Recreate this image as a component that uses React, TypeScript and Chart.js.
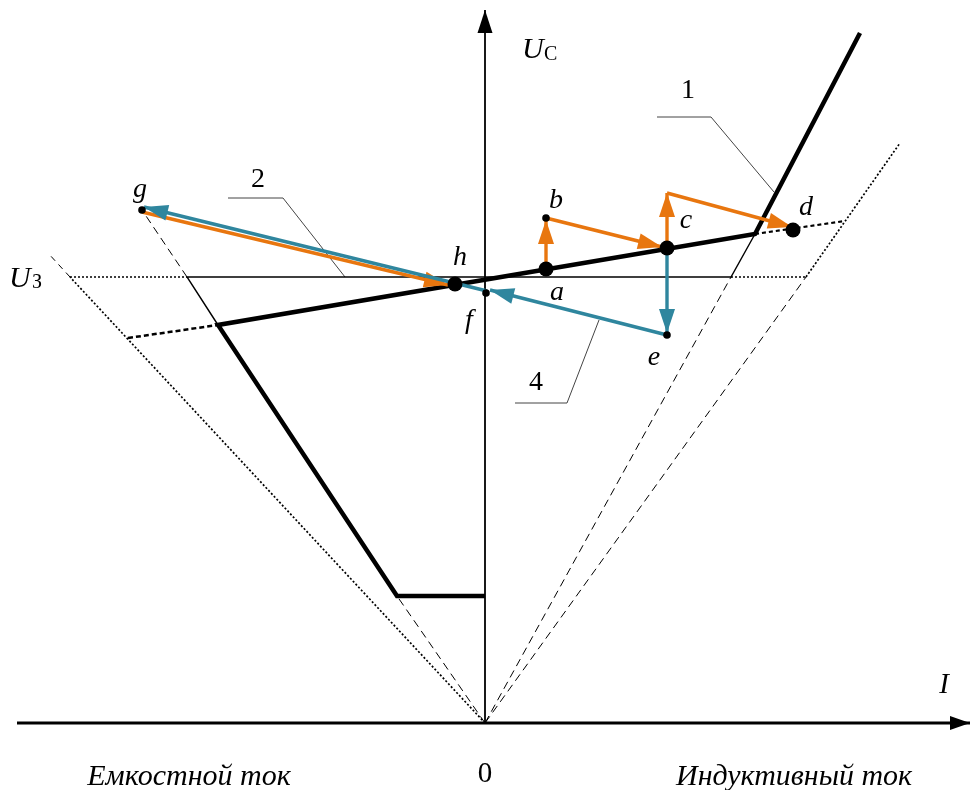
import React, { useEffect, useRef } from 'react';
import { Chart, registerables } from 'chart.js';
Chart.register(...registerables);

// Units: x = current I, y = voltage U (origin of the diagram at 0,0)
const thickCurve = [[0, 127], [-88, 127], [-267, 398], [270, 489], [375, 690]];
const thinSolid = [[-267, 398], [-298, 446], [246, 446], [270, 489]];
const u3DottedLeft = [[-415, 446], [-298, 446]];
const u3DottedRight = [[246, 446], [321, 446]];
const leftOuterDotted = [[0, 0], [-415, 446]];
const leftOuterDashedTop = [[-415, 446], [-437, 470]];
const leftInnerDashedLow = [[0, 0], [-88, 127]];
const leftInnerDashedTop = [[-298, 446], [-343, 513]];
const leftExtension = [[-357, 385], [-267, 398]];
const rightInnerDashed = [[0, 0], [246, 446]];
const rightOuterDashed = [[0, 0], [321, 446]];
const rightOuterDotted = [[321, 446], [415, 580]];
const rightExtension = [[270, 489], [360, 502]];

const leader1 = [[172, 606], [226, 606], [289, 531]];
const leader2 = [[-257, 525], [-202, 525], [-140, 446]];
const leader4 = [[30, 320], [82, 320], [114, 403]];

const axisI = [[-468, 0], [485, 0]];
const axisU = [[0, 0], [0, 713]];

// orange moves
const arrowAB = [[61, 458], [61, 503]];
const arrowBC = [[61, 505], [177, 476]];
const arrowCUp = [[182, 479], [182, 530]];
const arrowToD = [[182, 530], [307, 496]];
const arrowGH = [[-343, 511], [-37, 438]];
// teal moves
const arrowCE = [[182, 471], [182, 390]];
const arrowEF = [[182, 388], [5, 433]];
const arrowFG = [[2, 432], [-341, 516]];

const pointLetters = ['a', 'b', 'c', 'd', 'e', 'f', 'g', 'h'];
const pointI = [61, 61, 182, 308, 182, 1, -343, -30];
const pointU = [454, 505, 475, 493, 388, 430, 513, 439];
const pointBig = [true, false, true, true, false, false, false, true];
const letterI = [72, 71, 201, 321, 169, -16, -345, -25];
const letterU = [423, 515, 495, 508, 358, 395, 526, 458];

const captionTexts = ['U', 'С', 'U', 'З', 'I', '0', 'Емкостной ток', 'Индуктивный ток', '1', '2', '4'];
const captionI = [37, 59, -476, -453, 459, 0, -296, 309, 203, -227, 51];
const captionU = [665, 663, 436, 435, 30, -59, -62, -62, 625, 536, 333];

const ORANGE = '#E8760F';
const TEAL = '#2F869E';
const SERIF = '"Liberation Serif", "Times New Roman", serif';

const toXY = (arr: number[][]) => arr.map(([x, y]) => ({ x, y }));

function seg(data: number[][], color: string, width: number, dash: number[], order: number, extra: any = {}) {
  return {
    data: toXY(data),
    showLine: true,
    borderColor: color,
    backgroundColor: color,
    borderWidth: width,
    borderDash: dash,
    borderCapStyle: 'butt',
    borderJoinStyle: 'miter',
    pointRadius: 0,
    pointHoverRadius: 0,
    tension: 0,
    fill: false,
    clip: false,
    order,
    ...extra,
  };
}

const arrowPlugin = {
  id: 'arrowheads',
  afterDatasetDraw(chart: any, args: any) {
    const ds = chart.data.datasets[args.index];
    if (!ds.arrowHead) return;
    const pts = args.meta.data;
    const p1 = pts[pts.length - 2];
    const p2 = pts[pts.length - 1];
    const ang = Math.atan2(p2.y - p1.y, p2.x - p1.x);
    const { len, w } = ds.arrowHead;
    const c = Math.cos(ang), s = Math.sin(ang);
    const ctx = chart.ctx;
    ctx.save();
    ctx.fillStyle = ds.borderColor;
    ctx.beginPath();
    ctx.moveTo(p2.x, p2.y);
    ctx.lineTo(p2.x - len * c + (w / 2) * s, p2.y - len * s - (w / 2) * c);
    ctx.lineTo(p2.x - len * c - (w / 2) * s, p2.y - len * s + (w / 2) * c);
    ctx.closePath();
    ctx.fill();
    ctx.restore();
  },
};

const textPlugin = {
  id: 'texts',
  afterDraw(chart: any) {
    const ctx = chart.ctx;
    const xs = chart.scales.x, ys = chart.scales.y;
    ctx.save();
    ctx.fillStyle = '#000';
    ctx.textBaseline = 'alphabetic';
    ctx.font = `italic 28px ${SERIF}`;
    ctx.textAlign = 'center';
    pointLetters.forEach((t, i) => {
      ctx.fillText(t, xs.getPixelForValue(letterI[i]), ys.getPixelForValue(letterU[i]));
    });
    const styles = [
      { f: `italic 30px ${SERIF}`, a: 'left' },
      { f: `20px ${SERIF}`, a: 'left' },
      { f: `italic 30px ${SERIF}`, a: 'left' },
      { f: `20px ${SERIF}`, a: 'left' },
      { f: `italic 29px ${SERIF}`, a: 'center' },
      { f: `29px ${SERIF}`, a: 'center' },
      { f: `italic 30px ${SERIF}`, a: 'center', mw: 204 },
      { f: `italic 30px ${SERIF}`, a: 'center', mw: 236 },
      { f: `28px ${SERIF}`, a: 'center' },
      { f: `28px ${SERIF}`, a: 'center' },
      { f: `28px ${SERIF}`, a: 'center' },
    ];
    captionTexts.forEach((t, i) => {
      const st: any = styles[i];
      ctx.font = st.f;
      ctx.textAlign = st.a;
      const x = xs.getPixelForValue(captionI[i]);
      const y = ys.getPixelForValue(captionU[i]);
      if (st.mw) ctx.fillText(t, x, y, st.mw);
      else ctx.fillText(t, x, y);
    });
    ctx.restore();
  },
};

export default function App() {
  const ref = useRef<HTMLCanvasElement | null>(null);
  useEffect(() => {
    if (!ref.current) return;
    const bigPts = pointI.map((x, i) => ({ x, y: pointU[i] })).filter((_, i) => pointBig[i]);
    const smallPts = pointI.map((x, i) => ({ x, y: pointU[i] })).filter((_, i) => !pointBig[i]);
    const head = { len: 24, w: 16 };
    const datasets: any[] = [
      { data: bigPts, showLine: false, pointRadius: 7.5, pointBackgroundColor: '#000', pointBorderWidth: 0, order: 0, clip: false },
      { data: smallPts, showLine: false, pointRadius: 3.8, pointBackgroundColor: '#000', pointBorderWidth: 0, order: 0, clip: false },
      seg(arrowFG, TEAL, 3.4, [], 1, { arrowHead: head }),
      seg(arrowEF, TEAL, 3.4, [], 1, { arrowHead: head }),
      seg(arrowCE, TEAL, 3.4, [], 1, { arrowHead: head }),
      seg(arrowGH, ORANGE, 3.4, [], 2, { arrowHead: head }),
      seg(arrowToD, ORANGE, 3.4, [], 2, { arrowHead: head }),
      seg(arrowCUp, ORANGE, 3.4, [], 2, { arrowHead: head }),
      seg(arrowBC, ORANGE, 3.4, [], 2, { arrowHead: head }),
      seg(arrowAB, ORANGE, 3.4, [], 2, { arrowHead: head }),
      seg(thickCurve, '#000', 4.5, [], 3),
      seg(axisI, '#000', 2.8, [], 4, { arrowHead: { len: 20, w: 14 } }),
      seg(axisU, '#000', 1.8, [], 4, { arrowHead: { len: 23, w: 15 } }),
      seg(thinSolid, '#000', 1.4, [], 5),
      seg(leftExtension, '#000', 2.5, [5, 3], 5),
      seg(rightExtension, '#000', 2.2, [4, 3], 5),
      seg(u3DottedLeft, '#000', 1.5, [2, 2], 6),
      seg(u3DottedRight, '#000', 1.5, [2, 2], 6),
      seg(leftOuterDotted, '#000', 1.7, [2, 2], 6),
      seg(leftOuterDashedTop, '#000', 1, [6, 5], 6),
      seg(leftInnerDashedLow, '#000', 1, [8, 5], 6),
      seg(leftInnerDashedTop, '#000', 1, [8, 5], 6),
      seg(rightInnerDashed, '#000', 1, [8, 5], 6),
      seg(rightOuterDashed, '#000', 1, [8, 5], 6),
      seg(rightOuterDotted, '#000', 1.7, [2, 2], 6),
      seg(leader1, '#444', 1, [], 7),
      seg(leader2, '#444', 1, [], 7),
      seg(leader4, '#444', 1, [], 7),
    ];
    const chart = new Chart(ref.current, {
      type: 'scatter',
      data: { datasets },
      options: {
        animation: false,
        responsive: false,
        events: [],
        layout: { padding: 0, autoPadding: false },
        plugins: { legend: { display: false }, tooltip: { enabled: false }, title: { display: false } },
        scales: {
          x: { type: 'linear', min: -485, max: 486, display: false },
          y: { type: 'linear', min: -67, max: 723, display: false },
        },
      },
      plugins: [arrowPlugin, textPlugin],
    } as any);
    return () => chart.destroy();
  }, []);
  return (
    <div style={{ position: 'absolute', left: 0, top: 0, width: 971, height: 790, background: '#fff' }}>
      <canvas ref={ref} width={971} height={790} style={{ display: 'block' }} />
    </div>
  );
}
